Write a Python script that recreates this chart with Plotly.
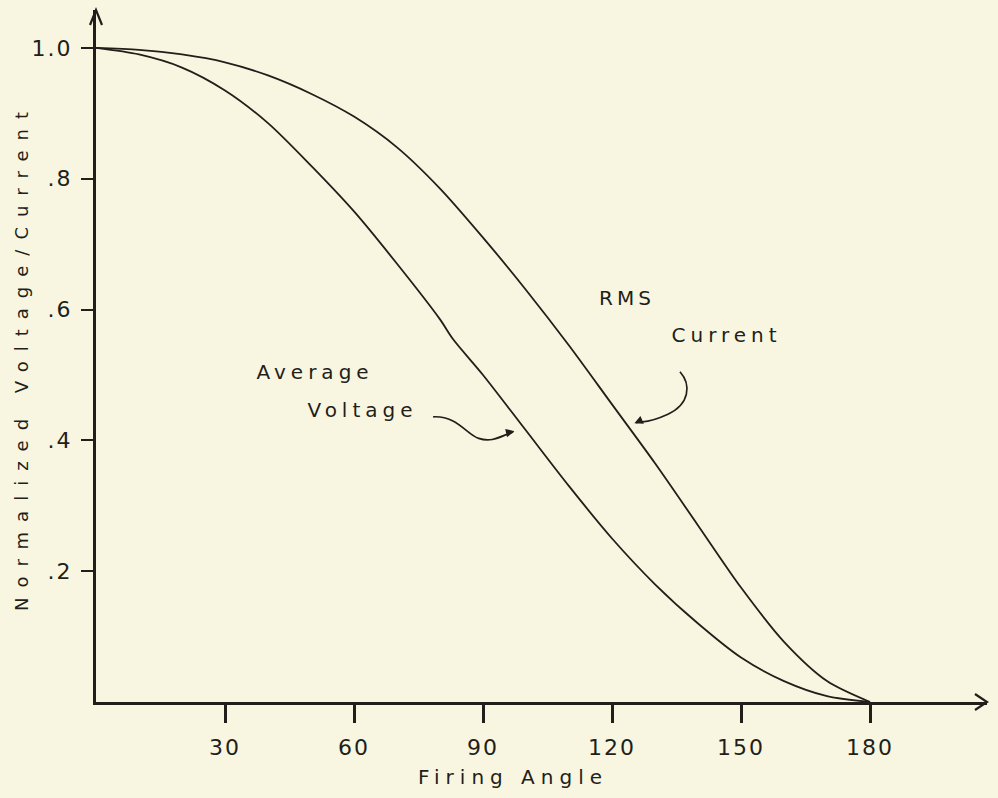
import plotly.graph_objects as go

# ---- data ----
angle_avg = [0, 10, 20, 30, 40, 50, 60, 70, 80, 83, 90, 100, 110, 120, 130, 140, 150, 160, 170, 180]
avg_voltage = [1.0, 0.99, 0.97, 0.935, 0.885, 0.82, 0.75, 0.67, 0.585, 0.555, 0.5, 0.415, 0.33,
               0.25, 0.18, 0.12, 0.068, 0.032, 0.009, 0.0]
angle_rms = [0, 10, 20, 30, 40, 50, 60, 70, 80, 90, 100, 110, 120, 130, 140, 150, 160, 170, 180]
rms_current = [1.0, 0.997, 0.99, 0.978, 0.958, 0.93, 0.895, 0.848, 0.785, 0.71, 0.63, 0.545,
               0.455, 0.365, 0.27, 0.175, 0.092, 0.032, 0.0]
x_ticks = [30, 60, 90, 120, 150, 180]
x_tick_labels = ["30", "60", "90", "120", "150", "180"]
y_ticks = [0.2, 0.4, 0.6, 0.8, 1.0]
y_tick_labels = [".2", ".4", ".6", ".8", "1.0"]

INK = "#221e1a"
BG = "#f8f6e1"
FONT = "DejaVu Sans"

fig = go.Figure()
fig.add_trace(go.Scatter(x=angle_rms, y=rms_current, mode="lines", name="RMS Current",
                         line=dict(color=INK, width=1.8, shape="spline", smoothing=0.8),
                         hoverinfo="skip"))
fig.add_trace(go.Scatter(x=angle_avg, y=avg_voltage, mode="lines", name="Average Voltage",
                         line=dict(color=INK, width=1.8, shape="spline", smoothing=0.8),
                         hoverinfo="skip"))

PW, PH = 891.0, 692.0  # plot area size in px

shapes = [
    # arrowhead on top of y axis
    dict(type="path", xref="paper", yref="paper",
         path=f"M {-6/PW},{1-15/PH} L 0,1 L {6/PW},{1-15/PH}",
         line=dict(color=INK, width=2.2)),
    # arrowhead at right of x axis
    dict(type="path", xref="paper", yref="paper",
         path=f"M {1-12/PW},{8/PH} L 1,0 L {1-12/PW},{-8/PH}",
         line=dict(color=INK, width=2.2)),
    # curly pointer to average voltage
    dict(type="path", xref="x", yref="y",
         path="M 78.4,0.436 C 84,0.438 86,0.41 89,0.403 S 94,0.406 97,0.413",
         line=dict(color=INK, width=1.7)),
    # curly pointer to RMS current
    dict(type="path", xref="x", yref="y",
         path="M 135.8,0.505 C 138.5,0.485 138,0.455 133,0.44 S 127.5,0.43 125.6,0.427",
         line=dict(color=INK, width=1.7)),
]

txt = dict(family=FONT, size=20, color=INK)
annotations = [
    dict(x=50.9, y=0.505, xref="x", yref="y", text="Average", showarrow=False, font=txt),
    dict(x=61.9, y=0.446, xref="x", yref="y", text="Voltage", showarrow=False, font=txt),
    dict(x=123.5, y=0.618, xref="x", yref="y", text="RMS", showarrow=False, font=txt),
    dict(x=146.7, y=0.561, xref="x", yref="y", text="Current", showarrow=False, font=txt),
    # arrow heads of the pointers
    dict(x=97.3, y=0.414, xref="x", yref="y", text="", showarrow=True, ax=-9, ay=2,
         arrowhead=2, arrowsize=1, arrowwidth=1.7, arrowcolor=INK),
    dict(x=125.2, y=0.426, xref="x", yref="y", text="", showarrow=True, ax=9, ay=-4,
         arrowhead=2, arrowsize=1, arrowwidth=1.7, arrowcolor=INK),
    # axis titles
    dict(x=97, y=-75/PH, xref="x", yref="paper", text="Firing Angle", showarrow=False,
         font=dict(family=FONT, size=20, color=INK), yanchor="middle"),
    dict(x=-74/PW, y=345/PH, xref="paper", yref="paper", text="Normalized Voltage/Current",
         showarrow=False, textangle=-90, font=dict(family=FONT, size=18, color=INK),
         xanchor="center", yanchor="middle"),
]

fig.update_layout(
    width=998, height=798, autosize=False,
    margin=dict(l=96, r=11, t=10, b=96),
    paper_bgcolor=BG, plot_bgcolor=BG, showlegend=False,
    shapes=shapes, annotations=annotations,
    xaxis=dict(range=[0, 207.2], showgrid=False, zeroline=False, showline=True,
               linecolor=INK, linewidth=2.5, tickmode="array", tickvals=x_ticks,
               ticktext=x_tick_labels, ticks="outside", ticklen=18, tickwidth=2.5,
               tickcolor=INK, tickfont=dict(family=FONT, size=22, color=INK),
               ticklabelstandoff=6, fixedrange=True),
    yaxis=dict(range=[0, 1.058], showgrid=False, zeroline=False, showline=True,
               linecolor=INK, linewidth=3, tickmode="array", tickvals=y_ticks,
               ticktext=y_tick_labels, ticks="outside", ticklen=12, tickwidth=1.8,
               tickcolor=INK, tickfont=dict(family=FONT, size=22, color=INK),
               ticklabelstandoff=4, fixedrange=True),
)

post = """
document.documentElement.style.margin = '0';
document.documentElement.style.background = '#f8f6e1';
document.body.style.margin = '0';
document.body.style.padding = '0';
document.body.style.background = '#f8f6e1';
var gd = document.getElementById('{plot_id}');
var spec = {'Average':'5px','Voltage':'5px','RMS':'4px','Current':'5px',
            'Firing Angle':'6px','Normalized Voltage/Current':'10px'};
gd.querySelectorAll('text').forEach(function(t){
  var s = spec[t.textContent]; if (s) { t.style.letterSpacing = s; }
});
gd.querySelectorAll('.xtick text, .ytick text').forEach(function(t){ t.style.letterSpacing='2px'; });
"""

fig.write_html("out.html", config={"displayModeBar": False, "responsive": False}, post_script=post)
